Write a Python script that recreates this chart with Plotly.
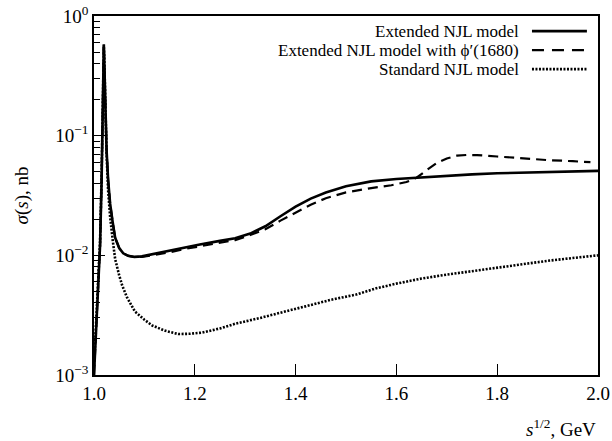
import plotly.graph_objects as go

# ---- data ----
ext_x = [1.000, 1.004, 1.008, 1.012, 1.015, 1.017, 1.0185, 1.0195, 1.0205, 1.022, 1.025, 1.028,
         1.032, 1.037, 1.042, 1.050, 1.058, 1.068, 1.080, 1.095, 1.115, 1.15, 1.18, 1.21, 1.25,
         1.28, 1.31, 1.34, 1.37, 1.40, 1.43, 1.46, 1.50, 1.55, 1.60, 1.65, 1.70, 1.75, 1.80,
         1.85, 1.90, 1.95, 2.00]
ext_y = [0.0010, 0.0022, 0.005, 0.012, 0.04, 0.12, 0.35, 0.58, 0.40, 0.18, 0.075, 0.043,
         0.027, 0.019, 0.0140, 0.0115, 0.0104, 0.0099, 0.0097, 0.0098, 0.0102, 0.0109, 0.0117,
         0.0123, 0.0132, 0.0139, 0.0152, 0.0175, 0.0212, 0.0255, 0.0298, 0.0335, 0.0378,
         0.0415, 0.0435, 0.0450, 0.0465, 0.0475, 0.0485, 0.0492, 0.0498, 0.0503, 0.0508]

phi_x = [1.000, 1.004, 1.008, 1.012, 1.015, 1.017, 1.0185, 1.0195, 1.0205, 1.022, 1.025, 1.028,
         1.032, 1.037, 1.042, 1.050, 1.058, 1.068, 1.080, 1.095, 1.115, 1.15, 1.18, 1.21, 1.25,
         1.28, 1.31, 1.34, 1.37, 1.40, 1.43, 1.46, 1.50, 1.55, 1.59, 1.62, 1.64, 1.66, 1.68,
         1.70, 1.72, 1.74, 1.76, 1.80, 1.85, 1.90, 1.95, 1.985]
phi_y = [0.0010, 0.0022, 0.005, 0.012, 0.04, 0.12, 0.35, 0.58, 0.40, 0.18, 0.075, 0.043,
         0.027, 0.019, 0.0140, 0.0115, 0.0104, 0.0099, 0.0097, 0.0097, 0.0100, 0.0106, 0.0113,
         0.0119, 0.0127, 0.0134, 0.0148, 0.0165, 0.0195, 0.0228, 0.0265, 0.0300, 0.0336,
         0.0365, 0.0385, 0.0410, 0.0445, 0.0515, 0.0590, 0.0645, 0.0680, 0.0690, 0.0688,
         0.0670, 0.0645, 0.0625, 0.0612, 0.0600]

std_x = [1.000, 1.004, 1.008, 1.012, 1.015, 1.017, 1.0185, 1.0195, 1.0205, 1.022, 1.025, 1.028,
         1.032, 1.037, 1.042, 1.050, 1.056, 1.065, 1.081, 1.10, 1.115, 1.14, 1.167, 1.19, 1.214,
         1.25, 1.28, 1.33, 1.38, 1.43, 1.47, 1.52, 1.56, 1.60, 1.65, 1.70, 1.75, 1.81, 1.85,
         1.90, 1.95, 2.00]
std_y = [0.0012, 0.0025, 0.0055, 0.013, 0.045, 0.13, 0.35, 0.55, 0.42, 0.20, 0.07, 0.035,
         0.021, 0.0135, 0.0093, 0.0068, 0.0056, 0.0045, 0.0034, 0.0029, 0.0026, 0.00235,
         0.0022, 0.00221, 0.00226, 0.00245, 0.00268, 0.0030, 0.0034, 0.0039, 0.00425, 0.0047,
         0.0053, 0.0058, 0.0064, 0.0069, 0.0074, 0.0080, 0.0085, 0.0090, 0.0095, 0.0100]

series_names = ["Extended NJL model", "Extended NJL model with \u03d5\u2032(1680)", "Standard NJL model"]
x_tick_vals = [1.0, 1.2, 1.4, 1.6, 1.8, 2.0]
x_tick_text = ["1.0", "1.2", "1.4", "1.6", "1.8", "2.0"]
y_tick_vals = [1e-3, 1e-2, 1e-1, 1.0]
y_tick_text = ["10<sup>\u22123</sup>", "10<sup>\u22122</sup>", "10<sup>\u22121</sup>", "10<sup>0</sup>"]
y_minor_vals = [k * 10.0 ** e for e in (-3, -2, -1) for k in range(2, 10)]

FONT = "Liberation Serif"
dashes = ["solid", "10px,6px", "2px,1.5px"]
legend_dashes = ["solid", "12px,8px", "2px,1.5px"]
widths = [2.6, 2.2, 2.6]

fig = go.Figure()
for xs, ys, name, dash, w in zip([ext_x, phi_x, std_x], [ext_y, phi_y, std_y], series_names, dashes, widths):
    fig.add_trace(go.Scatter(x=xs, y=ys, mode="lines", name=name, showlegend=False,
                             line=dict(color="black", width=w, dash=dash)))

axis_common = dict(showline=True, linecolor="black", linewidth=1.6, mirror=True, showgrid=False,
                   zeroline=False, ticks="inside", tickcolor="black", tickwidth=1.4,
                   automargin=False,
                   tickfont=dict(family=FONT, size=19, color="black"))

fig.update_layout(
    template="none",
    width=612, height=441,
    margin=dict(l=94, r=14, t=16, b=66, pad=0),
    paper_bgcolor="white", plot_bgcolor="white",
    font=dict(family=FONT, color="black"),
    showlegend=False,
    xaxis=dict(range=[1.0, 2.0], tickmode="array", tickvals=x_tick_vals, ticktext=x_tick_text,
               ticklen=11, **axis_common),
    yaxis=dict(type="log", range=[-3, 0], tickmode="array", tickvals=y_tick_vals, ticktext=y_tick_text,
               ticklen=11, minor=dict(tickmode="array", tickvals=y_minor_vals, ticks="inside",
                                      ticklen=6, tickcolor="black", tickwidth=1.2),
               **axis_common),
)

# axis titles
fig.add_annotation(text="<i>s</i><sup>1/2</sup>, GeV", xref="paper", yref="paper", x=1.0, y=-0.148,
                   xanchor="right", yanchor="middle", showarrow=False,
                   font=dict(family=FONT, size=19, color="black"))
fig.add_annotation(text="<i>\u03c3</i>(<i>s</i>), nb", xref="paper", yref="paper", x=-0.143, y=0.5,
                   xanchor="center", yanchor="middle", textangle=-90, showarrow=False,
                   font=dict(family=FONT, size=19, color="black"))

# legend (text right-aligned, sample line on the right)
leg_y = [0.958, 0.905, 0.852]
for name, dash, w, yy in zip(series_names, legend_dashes, widths, leg_y):
    fig.add_annotation(text=name, xref="paper", yref="paper", x=0.847, y=yy, xanchor="right",
                       yanchor="middle", showarrow=False, font=dict(family=FONT, size=17, color="black"))
    fig.add_shape(type="line", xref="paper", yref="paper", x0=0.869, x1=0.978, y0=yy, y1=yy,
                  line=dict(color="black", width=w, dash=dash))

fig.write_html("out.html")
